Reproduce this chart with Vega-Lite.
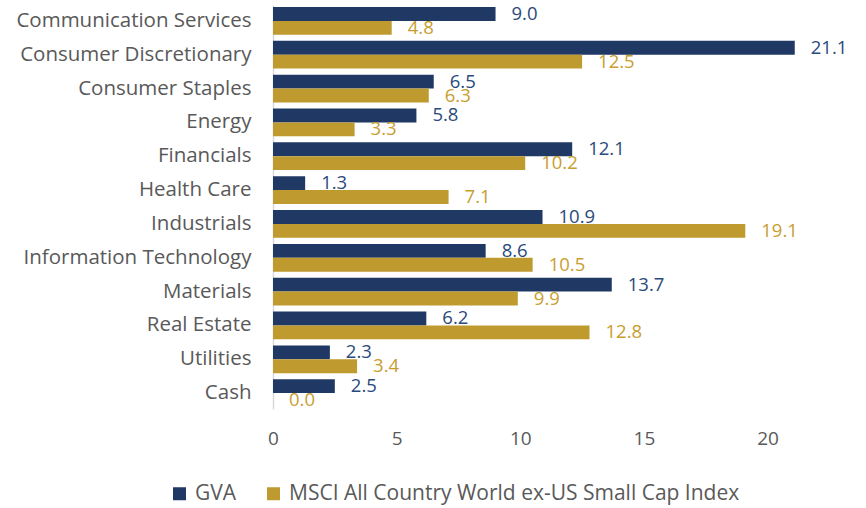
{
  "$schema": "https://vega.github.io/schema/vega-lite/v6.json",
  "width": 544,
  "height": 404,
  "autosize": {"type": "none"},
  "padding": {"left": 273, "top": 5, "right": 49, "bottom": 99},
  "background": "white",
  "config": {"view": {"stroke": null}, "font": "Open Sans"},
  "data": {
    "values": [
      {"category": "Communication Services", "series": "GVA", "value": 9.0},
      {"category": "Communication Services", "series": "MSCI All Country World ex-US Small Cap Index", "value": 4.8},
      {"category": "Consumer Discretionary", "series": "GVA", "value": 21.1},
      {"category": "Consumer Discretionary", "series": "MSCI All Country World ex-US Small Cap Index", "value": 12.5},
      {"category": "Consumer Staples", "series": "GVA", "value": 6.5},
      {"category": "Consumer Staples", "series": "MSCI All Country World ex-US Small Cap Index", "value": 6.3},
      {"category": "Energy", "series": "GVA", "value": 5.8},
      {"category": "Energy", "series": "MSCI All Country World ex-US Small Cap Index", "value": 3.3},
      {"category": "Financials", "series": "GVA", "value": 12.1},
      {"category": "Financials", "series": "MSCI All Country World ex-US Small Cap Index", "value": 10.2},
      {"category": "Health Care", "series": "GVA", "value": 1.3},
      {"category": "Health Care", "series": "MSCI All Country World ex-US Small Cap Index", "value": 7.1},
      {"category": "Industrials", "series": "GVA", "value": 10.9},
      {"category": "Industrials", "series": "MSCI All Country World ex-US Small Cap Index", "value": 19.1},
      {"category": "Information Technology", "series": "GVA", "value": 8.6},
      {"category": "Information Technology", "series": "MSCI All Country World ex-US Small Cap Index", "value": 10.5},
      {"category": "Materials", "series": "GVA", "value": 13.7},
      {"category": "Materials", "series": "MSCI All Country World ex-US Small Cap Index", "value": 9.9},
      {"category": "Real Estate", "series": "GVA", "value": 6.2},
      {"category": "Real Estate", "series": "MSCI All Country World ex-US Small Cap Index", "value": 12.8},
      {"category": "Utilities", "series": "GVA", "value": 2.3},
      {"category": "Utilities", "series": "MSCI All Country World ex-US Small Cap Index", "value": 3.4},
      {"category": "Cash", "series": "GVA", "value": 2.5},
      {"category": "Cash", "series": "MSCI All Country World ex-US Small Cap Index", "value": 0.0}
    ]
  },
  "encoding": {
    "y": {
      "field": "category",
      "type": "nominal",
      "sort": null,
      "scale": {"paddingInner": 0.18, "paddingOuter": 0.06},
      "axis": {
        "title": null,
        "ticks": false,
        "domain": true,
        "domainColor": "#d9d9d9",
        "domainWidth": 1.5,
        "labelFontSize": 20.5,
        "labelColor": "#595959",
        "labelPadding": 22,
        "labelLimit": 300
      }
    },
    "yOffset": {"field": "series", "type": "nominal", "sort": null},
    "x": {
      "field": "value",
      "type": "quantitative",
      "scale": {"domain": [0, 22], "nice": false},
      "axis": {
        "title": null,
        "values": [0, 5, 10, 15, 20],
        "grid": false,
        "domain": false,
        "ticks": false,
        "labelFontSize": 19,
        "labelColor": "#595959",
        "labelPadding": 20,
        "labelFlush": false
      }
    },
    "color": {
      "field": "series",
      "type": "nominal",
      "sort": null,
      "scale": {
        "domain": ["GVA", "MSCI All Country World ex-US Small Cap Index"],
        "range": ["#1f3864", "#bf9a2f"]
      },
      "legend": {
        "title": null,
        "orient": "none",
        "direction": "horizontal",
        "legendX": -104,
        "legendY": 478,
        "symbolType": "square",
        "symbolSize": 169,
        "symbolStrokeWidth": 0,
        "symbolOpacity": 1,
        "labelFontSize": 21,
        "labelColor": "#595959",
        "labelOffset": 5,
        "columnPadding": 26,
        "labelLimit": 600
      }
    }
  },
  "layer": [
    {"mark": {"type": "bar", "opacity": 1}},
    {
      "mark": {"type": "text", "align": "left", "baseline": "middle", "dx": 16, "fontSize": 18.5},
      "encoding": {
        "text": {"field": "value", "type": "quantitative", "format": ".1f"},
        "color": {
          "field": "series",
          "type": "nominal",
          "scale": {
            "domain": ["GVA", "MSCI All Country World ex-US Small Cap Index"],
            "range": ["#2a4a7c", "#c89e30"]
          },
          "legend": null
        }
      }
    }
  ],
  "resolve": {"scale": {"color": "independent"}}
}
